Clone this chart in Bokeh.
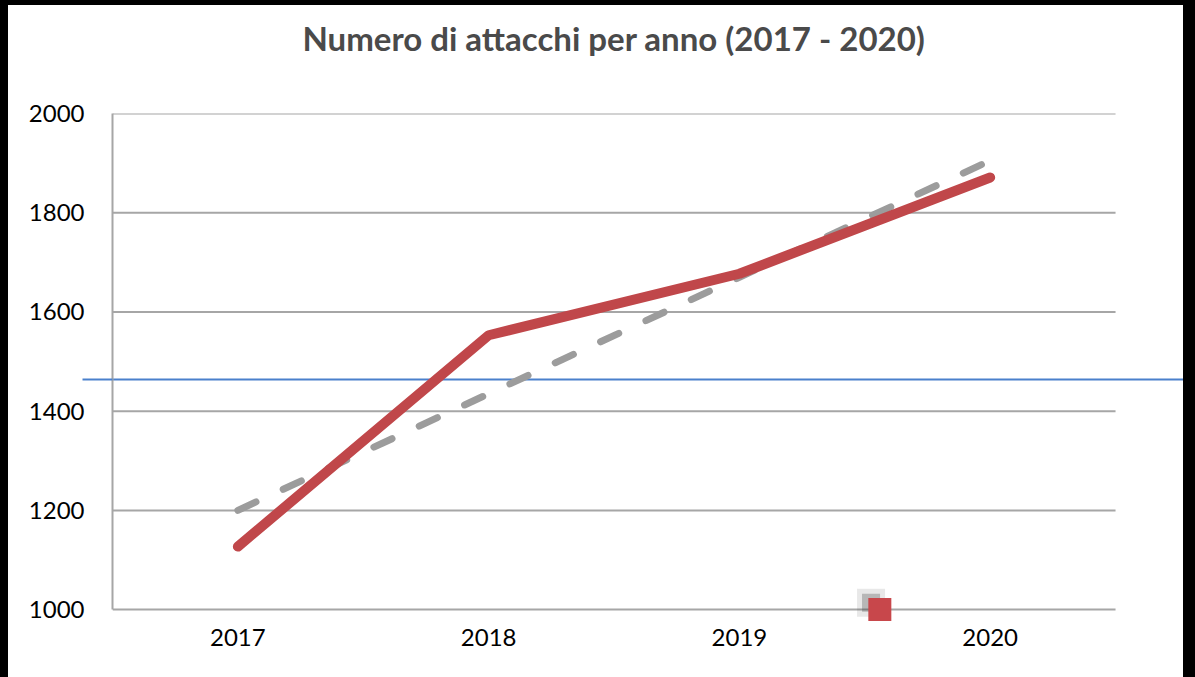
from bokeh.plotting import figure
from bokeh.models import Range1d, FixedTicker, LinearAxis
from bokeh.embed import file_html
from bokeh.resources import INLINE

years = ["2017", "2018", "2019", "2020"]
attacks = [1127, 1553, 1677, 1871]
trend = [1200, 1435, 1670, 1905]
ref_level = 1464
marker_pos = 3.06
marker_val = 1000
title_text = "Numero di attacchi per anno (2017 - 2020)"
y_ticks = [1000, 1200, 1400, 1600, 1800, 2000]

n = len(years)
xs = [i + 0.5 for i in range(n)]
BLUE = "#4a80cc"
GRID = "#a6a6a6"

p = figure(width=1175, height=672, output_backend="svg", toolbar_location=None,
           x_range=Range1d(0, 4.271), y_range=Range1d(976, 2000),
           min_border_left=104, min_border_right=0, min_border_top=108,
           min_border_bottom=56)
p.outline_line_color = None
p.background_fill_color = "white"
p.border_fill_color = "white"

# title as the single tick label of an empty axis above the frame
tax = LinearAxis(ticker=FixedTicker(ticks=[n / 2]))
tax.major_label_overrides = {n / 2: title_text}
tax.axis_line_color = None
tax.major_tick_line_color = None
tax.minor_tick_line_color = None
tax.major_tick_out = 0
tax.major_tick_in = 0
tax.major_label_text_font = "Lato"
tax.major_label_text_font_style = "bold"
tax.major_label_text_font_size = "33px"
tax.major_label_text_color = "#4a4a4a"
tax.major_label_standoff = 56
p.add_layout(tax, "above")

# x axis
xa = p.below[0]
xa.ticker = FixedTicker(ticks=xs)
xa.major_label_overrides = {x: y for x, y in zip(xs, years)}
xa.minor_tick_line_color = None
xa.axis_line_color = None
xa.major_label_standoff = 7
# y axis
ya = p.left[0]
ya.ticker = FixedTicker(ticks=y_ticks, minor_ticks=[ref_level])
ya.axis_line_color = GRID
ya.axis_line_width = 2
ya.bounds = (y_ticks[0], y_ticks[-1])
ya.major_label_standoff = -2
ya.minor_tick_line_color = BLUE
ya.minor_tick_line_width = 2
ya.minor_tick_out = 30
ya.minor_tick_in = 0
for ax in (xa, ya):
    ax.major_tick_line_color = None
    ax.major_tick_out = 0
    ax.major_tick_in = 0
    ax.major_label_text_font = "Lato"
    ax.major_label_text_font_size = "24px"
    ax.major_label_text_color = "#000000"
p.xgrid.grid_line_color = None
p.ygrid.grid_line_color = None

# horizontal gridlines spanning the category extent
p.segment(x0=[0] * len(y_ticks), x1=[n] * len(y_ticks), y0=y_ticks, y1=y_ticks,
          line_color=GRID, line_width=2)

# blue reference line
p.hspan(y=[ref_level], line_color=BLUE, line_width=2)

# trend dashed
p.line(xs, trend, line_color="#9c9c9c", line_width=7, line_dash="20 30",
       line_cap="round")
# main series
p.line(xs, attacks, line_color="#c0474a", line_width=10, line_cap="round",
       line_join="round")

# marker with soft shadow
p.scatter([marker_pos - 0.035], [marker_val + 14], marker="square", size=28,
          fill_color="#444444", fill_alpha=0.12, line_color=None)
p.scatter([marker_pos - 0.035], [marker_val + 14], marker="square", size=18,
          fill_color="#444444", fill_alpha=0.3, line_color=None)
p.scatter([marker_pos], [marker_val], marker="square", size=23,
          fill_color="#c8474b", line_color=None)

html = file_html(p, INLINE)
html = html.replace(
    "</head>",
    "<style>html {background:#ffffff !important;} "
    "body {background:#ffffff !important; margin:0 !important; padding:0 !important; "
    "box-sizing:border-box !important; border-style:solid !important; "
    "border-color:#000000 !important; border-width:5px 12px 0 8px !important;}</style></head>", 1)
open("out.html", "w").write(html)
